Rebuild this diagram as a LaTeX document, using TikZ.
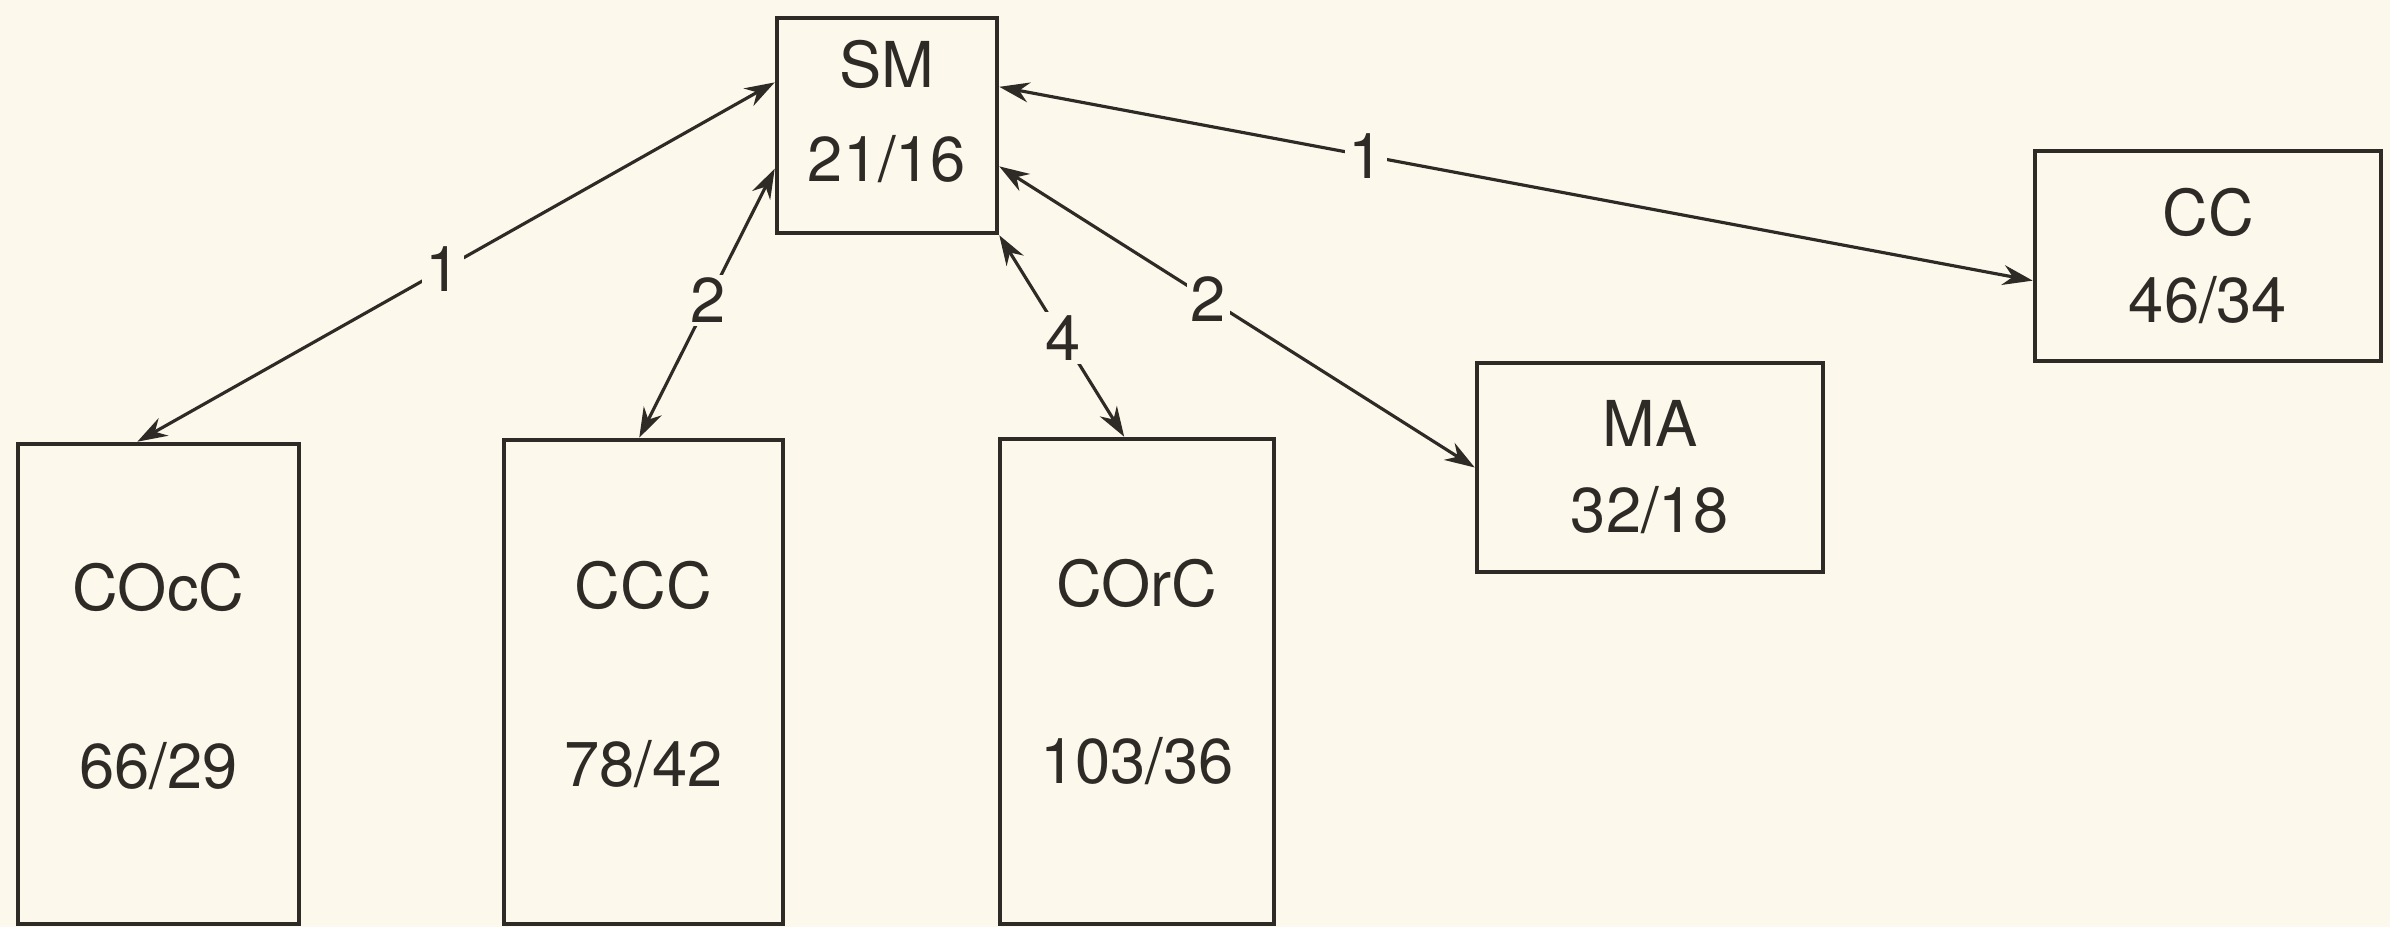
\documentclass[tikz,border=0pt]{standalone}
\usepackage{fontspec}
\setmainfont{TeX Gyre Heros}
\usetikzlibrary{arrows.meta}
\definecolor{paperColor}{HTML}{FDF8EC}
\definecolor{inkColor}{HTML}{2E2A26}

\begin{document}
\begin{tikzpicture}[
    box/.style={draw=inkColor, line width=1.3pt, align=center, inner sep=0pt,
        text=inkColor, font=\fontsize{18}{22}\selectfont},
    link/.style={inkColor, line width=0.9pt,
        {Stealth[length=3mm,width=2mm]}-{Stealth[length=3mm,width=2mm]}},
    count/.style={fill=paperColor, inner sep=1pt, text=inkColor,
        font=\fontsize{18}{22}\selectfont}
]
    \fill[paperColor] (0,0) rectangle (23.9,-9.27);
    \useasboundingbox (0,0) rectangle (23.9,-9.27);
    % centre node and the two boxes on the right
    \node[box, minimum width=2.2cm, minimum height=2.15cm, text depth=0.3cm]
        (sm) at (8.87,-1.255) {SM\\[4.7pt]21/16};
    \node[box, minimum width=3.46cm, minimum height=2.1cm]
        (cc) at (22.08,-2.56) {CC\\[2.5pt]46/34};
    \node[box, minimum width=3.46cm, minimum height=2.09cm]
        (ma) at (16.5,-4.675) {MA\\[2.5pt]32/18};
    % tall boxes at the bottom
    \node[box, minimum width=2.81cm, minimum height=4.8cm, text depth=0.16cm]
        (cocc) at (1.585,-6.84) {COcC\\[28.5pt]66/29};
    \node[box, minimum width=2.79cm, minimum height=4.84cm, text depth=0.16cm]
        (ccc) at (6.435,-6.82) {CCC\\[28.5pt]78/42};
    \node[box, minimum width=2.74cm, minimum height=4.85cm, text depth=0.2cm]
        (corc) at (11.37,-6.815) {COrC\\[28.5pt]103/36};
    % links with their counts
    \draw[link] (sm.159) -- (cocc.95) node[count, pos=0.52] {1};
    \draw[link] (sm.201) -- (ccc.91) node[count, pos=0.49] {2};
    \draw[link] (sm.south east) -- (corc.93) node[count, pos=0.51] {4};
    \draw[link] (sm.-20) -- (ma.west) node[count, pos=0.44] {2};
    \draw[link] (sm.19) -- (cc.188) node[count, pos=0.355] {1};
\end{tikzpicture}
\end{document}
